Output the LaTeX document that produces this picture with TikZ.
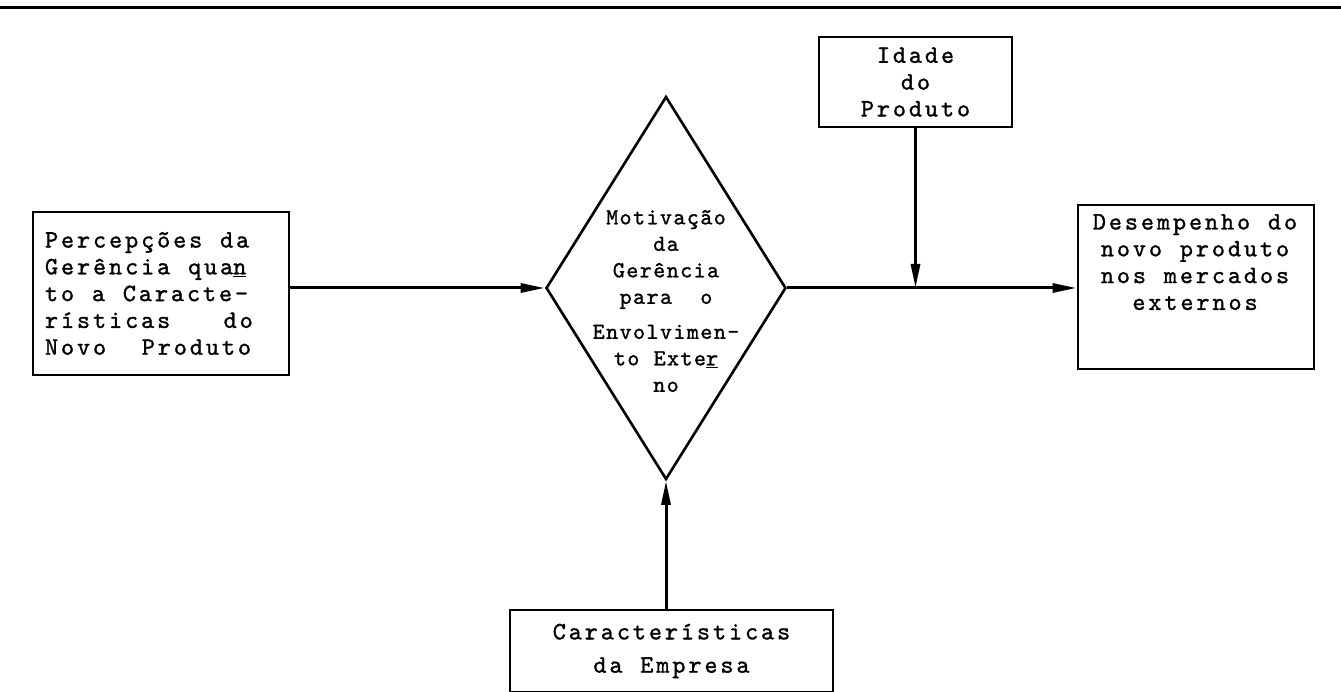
\documentclass[tikz,border=0pt]{standalone}
\usepackage{fontspec}
% tipo de maquina de escrever
\newfontfamily\maquina[LetterSpace=11.6,WordSpace={1.11,0,0},FakeBold=1.2]{lmmono10-regular.otf}
\newfontfamily\maquinamenor[LetterSpace=6,WordSpace={1.05,0,0},FakeBold=1.2]{lmmono10-regular.otf}
\usetikzlibrary{shapes.geometric,arrows.meta}

\newcommand\tipo{\maquina\fontsize{25}{26.8}\selectfont}
\newcommand\tipomenor{\maquinamenor\fontsize{23}{26.5}\selectfont}

\tikzset{
  caixa/.style={draw, line width=2.8pt, inner sep=0pt, align=center, font=\tipo,
    execute at begin node={\spaceskip=0pt\xspaceskip=0pt\relax}},
  losango/.style={draw, diamond, line width=2.6pt, inner sep=0pt,
    minimum width=240pt, minimum height=383pt},
  texto/.style={inner sep=0pt, align=center, font=\tipo,
    execute at begin node={\spaceskip=0pt\xspaceskip=0pt\relax}},
  seta/.style={line width=3pt, -{Triangle[length=24pt,width=9pt]}}
}

\begin{document}
\begin{tikzpicture}[x=1pt, y=-1pt]
\useasboundingbox (0,0) rectangle (1341,692);

% Linha superior
\draw[line width=3pt] (0,8) -- (1341,8);

% Caixas
\node[caixa, minimum width=256pt, minimum height=163pt, text width=232pt, align=left] (percepcoes) at (161,293.5)
  {Percepções da\\Gerência qua\underline{n}\\to a Caracte-\\rísticas~~~do\\Novo~~Produto};
\node[caixa, minimum width=193pt, minimum height=90pt] (idade) at (915.5,82)
  {Idade\\do\\Produto};
\node[caixa, minimum width=236pt, minimum height=164pt] (desempenho) at (1196,287) {};
\node[texto, anchor=north] (desempenho-texto) at (1195,214)
  {Desempenho do\\novo produto\\nos mercados\\externos};
\node[caixa, minimum width=323pt, minimum height=82pt] (empresa) at (671.5,651)
  {Características\\[6.5pt]da Empresa};

% Losango
\node[losango] (motivacao) at (666,288) {};
\node[texto, font=\tipomenor, anchor=north] (motivacao-texto) at (666,210)
  {Motivação\\da\\Gerência\\para~~o\\[8.5pt]Envolvimen-\\to Exte\underline{r}\\no};

% Setas
\draw[seta] (percepcoes.east |- motivacao.west) -- (motivacao.west);
\draw[seta] (motivacao.east) -- (motivacao.east -| desempenho.west);
\coordinate (juncao) at (idade.south |- motivacao.east);
\draw[seta] (idade.south) -- (juncao);
\draw[seta] (empresa.north -| motivacao.south) -- (motivacao.south);
\end{tikzpicture}
\end{document}
